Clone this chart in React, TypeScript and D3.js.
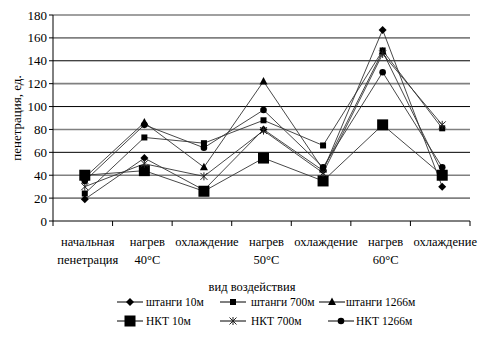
import React from "react";
import * as d3 from "d3";

const categories = [
  ["начальная", "пенетрация"],
  ["нагрев", "40°C"],
  ["охлаждение"],
  ["нагрев", "50°C"],
  ["охлаждение"],
  ["нагрев", "60°C"],
  ["охлаждение"],
];
const yTicks = [0, 20, 40, 60, 80, 100, 120, 140, 160, 180];

const shtangi10 = [19, 55, 27, 80, 44, 167, 30];
const shtangi700 = [24, 73, 68, 88, 66, 149, 81];
const shtangi1266 = [38, 86, 47, 122, 45, 148, 42];
const nkt10 = [40, 44, 26, 55, 35, 84, 40];
const nkt700 = [30, 50, 39, 79, 42, 146, 84];
const nkt1266 = [35, 84, 64, 97, 47, 130, 47];

const seriesNames = ["штанги 10м", "штанги 700м", "штанги 1266м", "НКТ 10м", "НКТ 700м", "НКТ 1266м"];
const seriesValues = [shtangi10, shtangi700, shtangi1266, nkt10, nkt700, nkt1266];
const markerTypes = ["diamond", "square", "triangle", "bigsquare", "star", "circle"];

const FONT = '"Liberation Serif", "DejaVu Serif", serif';

function Marker({ type, x, y }: { type: string; x: number; y: number }) {
  switch (type) {
    case "diamond":
      return <path d={`M${x},${y - 4}L${x + 4},${y}L${x},${y + 4}L${x - 4},${y}Z`} fill="#000" />;
    case "square":
      return <rect x={x - 3} y={y - 3} width={6} height={6} fill="#000" />;
    case "triangle":
      return <path d={`M${x},${y - 4.5}L${x + 4},${y + 3}L${x - 4},${y + 3}Z`} fill="#000" />;
    case "bigsquare":
      return <rect x={x - 5.5} y={y - 5.5} width={11} height={11} fill="#000" />;
    case "star":
      return (
        <g stroke="#222" strokeWidth={1}>
          <line x1={x - 3.5} y1={y - 3.5} x2={x + 3.5} y2={y + 3.5} />
          <line x1={x - 3.5} y1={y + 3.5} x2={x + 3.5} y2={y - 3.5} />
          <line x1={x} y1={y - 4} x2={x} y2={y + 4} />
        </g>
      );
    case "circle":
      return <circle cx={x} cy={y} r={3.3} fill="#000" />;
    default:
      return null;
  }
}

export default function App() {
  const width = 492;
  const height = 357;
  const x0 = 53;
  const x1 = 470;
  const yScale = d3.scaleLinear().domain([0, 180]).range([221, 15]);
  const band = d3
    .scaleBand<number>()
    .domain(d3.range(categories.length))
    .range([x0, x1])
    .paddingInner(0)
    .paddingOuter(0);
  const cx = (i: number) => (band(i) as number) + band.bandwidth() / 2 + 2;
  const line = d3
    .line<number>()
    .x((_, i) => cx(i))
    .y((d) => yScale(d));

  const boundaries = d3.range(categories.length + 1).map((i) => x0 + i * band.bandwidth());

  const legendItems = [
    { lx: 117, tx: 146, y: 302 },
    { lx: 220, tx: 251, y: 302 },
    { lx: 319, tx: 346, y: 302 },
    { lx: 117, tx: 146, y: 321 },
    { lx: 220, tx: 251, y: 321 },
    { lx: 328, tx: 356, y: 321 },
  ];

  const ts = { fontFamily: FONT };

  return (
    <svg
      width={width}
      height={height}
      style={{ position: "absolute", left: 0, top: 0, background: "#fff", fontFamily: FONT }}
    >
      <rect width={width} height={height} fill="#fff" />
      {yTicks
        .filter((t) => t !== 0)
        .map((t) => {
          const black = t === 60 || t === 100 || t === 140;
          return (
            <line
              key={t}
              x1={x0}
              x2={x1}
              y1={yScale(t)}
              y2={yScale(t)}
              stroke={black ? "#000" : "#808080"}
              strokeWidth={black ? 1 : 1.6}
            />
          );
        })}
      <line x1={x0} x2={x0} y1={yScale(180)} y2={yScale(0)} stroke="#000" />
      <line x1={x0} x2={x1} y1={yScale(0)} y2={yScale(0)} stroke="#000" />
      {yTicks.map((t) => (
        <g key={t}>
          <line x1={x0 - 4} x2={x0} y1={yScale(t)} y2={yScale(t)} stroke="#000" />
          <text x={47} y={yScale(t)} dy="0.35em" textAnchor="end" fontSize={13} style={ts}>
            {t}
          </text>
        </g>
      ))}
      {boundaries.map((b, i) => (
        <line key={i} x1={b} x2={b} y1={yScale(0)} y2={yScale(0) + 5} stroke="#000" />
      ))}
      {categories.map((c, i) => (
        <text key={i} textAnchor="middle" fontSize={12.5} style={ts}>
          {c.map((l, j) => (
            <tspan key={j} x={cx(i) + 3} y={246 + j * 18}>
              {l}
            </tspan>
          ))}
        </text>
      ))}
      <text x={252} y={291} textAnchor="middle" fontSize={12.5} style={ts}>
        вид воздействия
      </text>
      <text transform={`translate(21,118) rotate(-90)`} textAnchor="middle" fontSize={13} style={ts}>
        пенетрация, ед.
      </text>
      {seriesValues.map((vals, s) => (
        <path key={s} d={line(vals) || ""} fill="none" stroke="#333" strokeWidth={0.9} />
      ))}
      {seriesValues.map((vals, s) => (
        <g key={s}>
          {vals.map((v, i) => (
            <Marker key={i} type={markerTypes[s]} x={cx(i)} y={yScale(v)} />
          ))}
        </g>
      ))}
      {legendItems.map((it, s) => (
        <g key={s}>
          <line x1={it.lx} x2={it.lx + 26} y1={it.y} y2={it.y} stroke="#000" />
          <Marker type={markerTypes[s]} x={it.lx + 13} y={it.y} />
          <text x={it.tx} y={it.y} dy="0.35em" fontSize={11.5} style={ts}>
            {seriesNames[s]}
          </text>
        </g>
      ))}
    </svg>
  );
}
